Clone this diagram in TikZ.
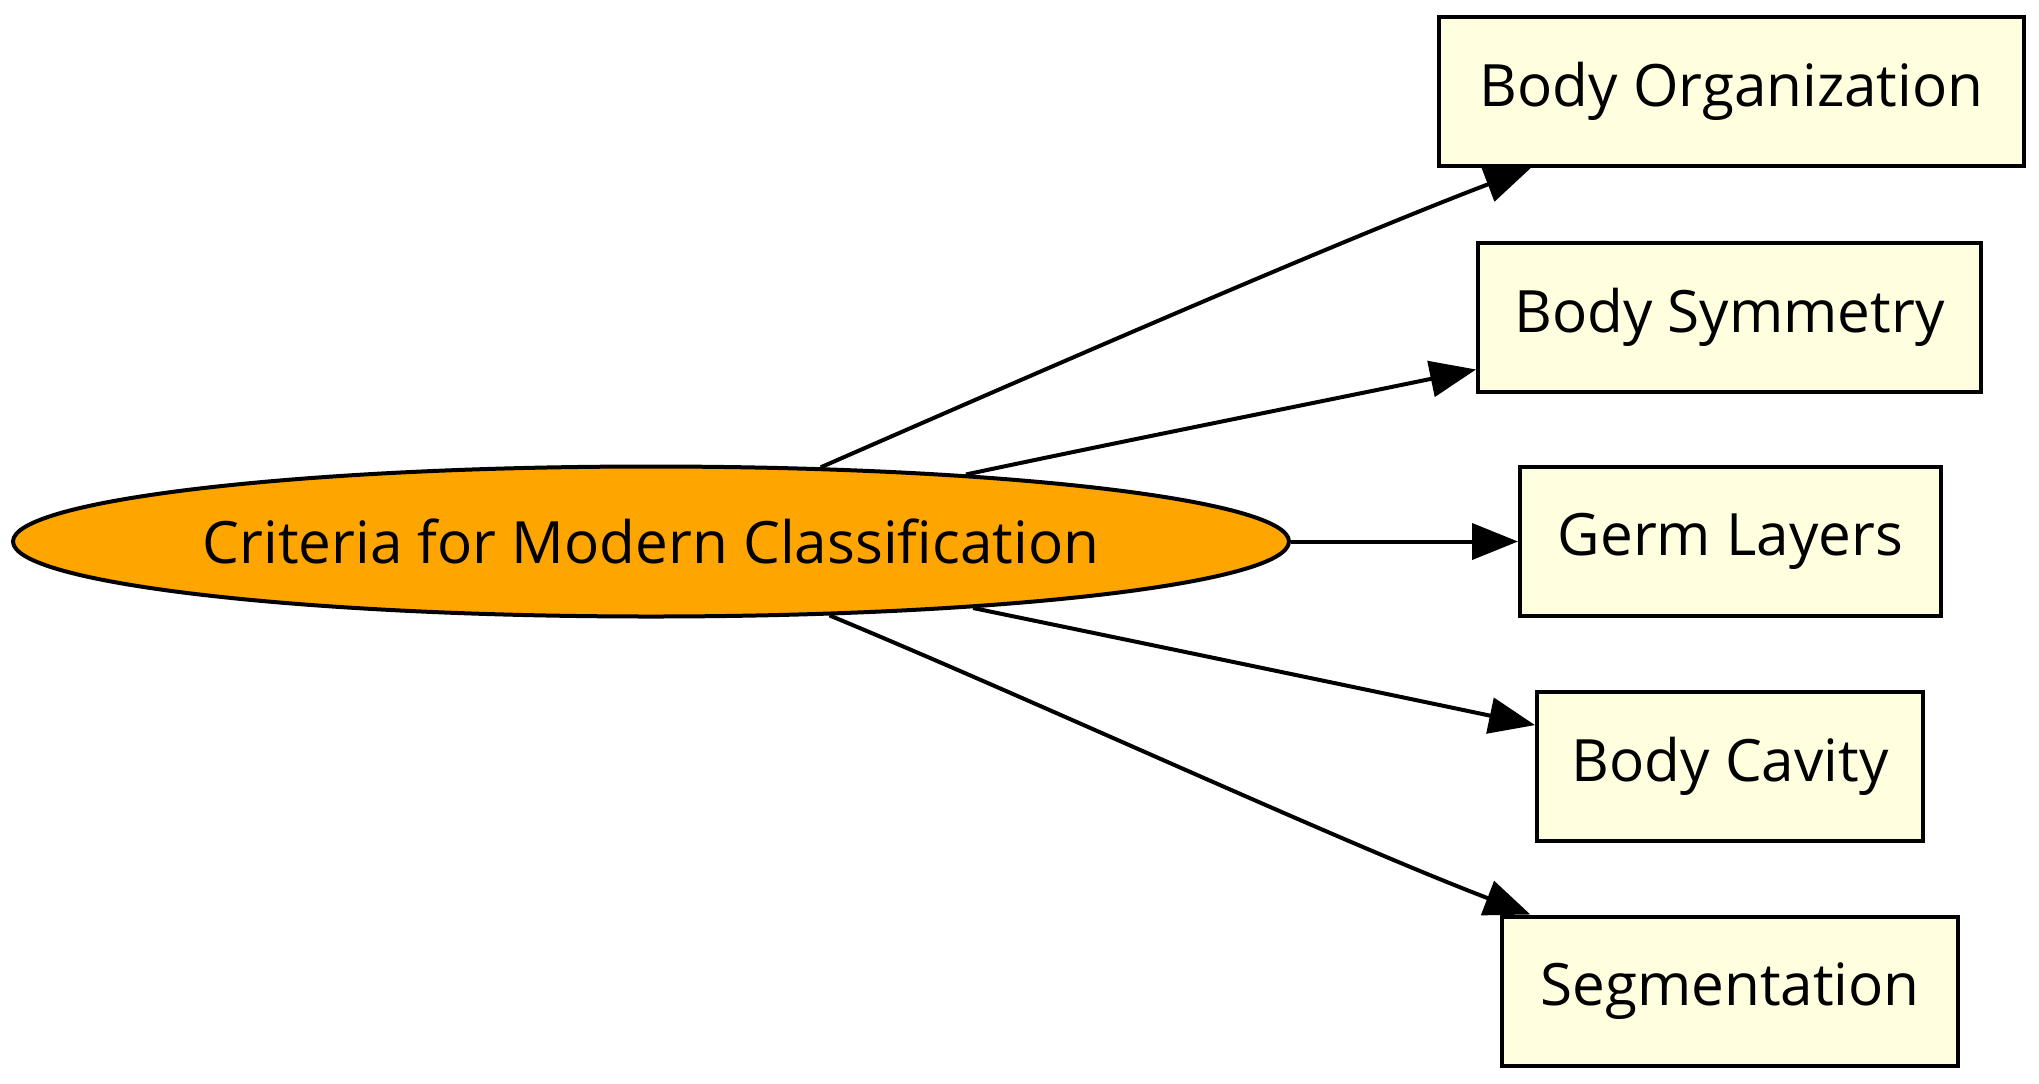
\documentclass[tikz,border=0pt]{standalone}
\usepackage{fontspec}
\setmainfont{Open Sans}
\usetikzlibrary{shapes.geometric,arrows.meta}
\definecolor{rootfill}{HTML}{FFA500}
\definecolor{boxfill}{HTML}{FFFFE0}
\begin{document}
\begin{tikzpicture}[x=0.5pt,y=-0.5pt,
  every node/.style={font=\fontsize{29.2pt}{35pt}\selectfont},
  rootnode/.style={ellipse, draw, line width=2pt, fill=rootfill, inner xsep=-20pt, inner ysep=0pt, minimum width=638pt, minimum height=75pt},
  boxnode/.style={rectangle, draw, line width=2pt, fill=boxfill, inner sep=0pt, minimum height=74.5pt},
  link/.style={line width=2pt, -{Triangle[length=23pt,width=18pt]}}]
\useasboundingbox (0,0) rectangle (2039,1083);
\node[rootnode] (root) at (651,541.5) {Criteria for Modern Classification};
\node[boxnode, minimum width=292.5pt] (org) at (1731.5,91.5) {Body Organization};
\node[boxnode, minimum width=251.5pt] (sym) at (1729.5,317) {Body Symmetry};
\node[boxnode, minimum width=210.5pt] (germ) at (1730.5,541.5) {Germ Layers};
\node[boxnode, minimum width=193pt] (cav) at (1730,766) {Body Cavity};
\node[boxnode, minimum width=228pt] (seg) at (1730,991) {Segmentation};
\draw[link] (root) .. controls (1025,378) and (1334,243) .. (org);
\draw[link] (root) .. controls (1128,440) and (1334,399) .. (sym);
\draw[link] (root) -- (germ);
\draw[link] (root) .. controls (1128,640) and (1354,687) .. (cav);
\draw[link] (root) .. controls (1029,698) and (1336,840) .. (seg);
\end{tikzpicture}
\end{document}
